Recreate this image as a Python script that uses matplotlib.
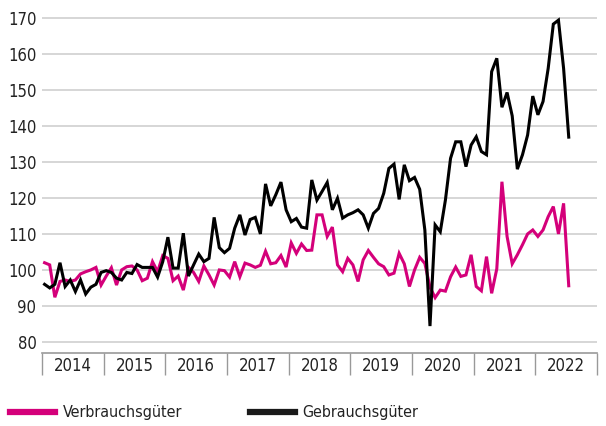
import numpy as np
import matplotlib
matplotlib.use('Agg')
import matplotlib.pyplot as plt
from matplotlib.lines import Line2D

plt.rcParams['font.family'] = ['DejaVu Sans']
plt.rcParams['font.stretch'] = 'condensed'

# monthly index values, Jan 2014 - Jul 2022
years = [2014, 2015, 2016, 2017, 2018, 2019, 2020, 2021, 2022]

verbrauch = [
    102, 101.4, 92.4, 96.8, 97.2, 96.8, 97.2, 98.9, 99.5, 100, 100.7, 95.8,
    98.3, 100.6, 95.8, 100, 100.9, 101.1, 100, 97, 97.7, 102.3, 99.5, 104,
    103.2, 97, 98.3, 94.4, 100.7, 99.3, 96.8, 101.1, 98.6, 95.8, 100, 99.8,
    98, 102.3, 98.1, 101.9, 101.4, 100.7, 101.3, 105.2, 101.7, 102, 104, 100.8,
    107.5, 104.6, 107.2, 105.4, 105.5, 115.3, 115.3, 109.3, 111.9, 101.4, 99.5, 103.2,
    101.4, 96.8, 102.8, 105.4, 103.5, 101.7, 100.9, 98.6, 99.1, 104.6, 101.7, 95.4,
    100, 103.5, 101.8, 95.2, 92.3, 94.4, 94.1, 98.1, 100.8, 98.2, 98.6, 104.2,
    95.4, 94.2, 103.7, 93.5, 100.3, 124.5, 109.3, 101.7, 104.2, 107, 110, 111.1,
    109.3, 111.1, 114.8, 117.6, 110, 118.5, 95.6,
]

gebrauch = [
    96, 95, 96, 102, 95.4, 97.2, 94, 97.2, 93.3, 95.2, 96, 99.3,
    99.8, 99.3, 97.7, 97.2, 99.3, 99, 101.5, 100.7, 100.7, 100.7, 98, 102.3,
    109.1, 100.5, 100.5, 110.2, 98.3, 101.4, 104.4, 102.3, 103.2, 114.6, 106.2, 104.8,
    106, 111.6, 115.3, 109.7, 114, 114.6, 110, 123.9, 117.8, 120.9, 124.4, 116.7,
    113.4, 114.3, 111.9, 111.6, 125, 119.4, 121.8, 124.3, 116.7, 119.9, 114.4, 115.3,
    115.9, 116.7, 115.3, 111.6, 115.7, 117.1, 121.3, 128.2, 129.4, 119.6, 129.2, 124.8,
    125.7, 122.4, 111.1, 84.4, 112.5, 110.6, 119.4, 131, 135.6, 135.6, 128.7, 134.7,
    137, 132.9, 132, 155.1, 158.8, 145.2, 149.3, 142.8, 128, 132, 137.5, 148.3,
    143.1, 146.8, 156, 168.3, 169.4, 156, 136.9,
]

pink = '#d4007a'
months = np.arange(len(gebrauch))

fig = plt.figure(figsize=(6.06, 4.26), dpi=100)
ax = fig.add_axes([42 / 606, 1 - 352.7 / 426, 555 / 606, (352.7 - 14.4) / 426])

ax.plot(months, verbrauch, color=pink, lw=2.2, solid_joinstyle='miter')
ax.plot(months, gebrauch, color='black', lw=2.2, solid_joinstyle='miter')

ax.set_xlim(-0.5, 12 * len(years) - 0.5)
ax.set_ylim(77, 171)
ax.set_yticks(np.arange(80, 171, 10))
ax.grid(axis='y', color='#d0d0d0', lw=1.2)
ax.set_axisbelow(True)

# year separators as major ticks, year names on minor ticks
ax.set_xticks(np.arange(len(years) + 1) * 12 - 0.5)
ax.set_xticklabels([])
ax.set_xticks(np.arange(len(years)) * 12 + 5.5, minor=True)
ax.set_xticklabels([str(y) for y in years], minor=True)
ax.tick_params(axis='x', which='major', direction='out', length=16, width=1, color='#999999')
ax.tick_params(axis='x', which='minor', length=0, pad=3, labelsize=12, labelcolor='#222222')
ax.tick_params(axis='y', length=0, pad=4, labelsize=12, labelcolor='#222222')

for side in ['top', 'right', 'left']:
    ax.spines[side].set_visible(False)
ax.spines['bottom'].set_color('#999999')
ax.spines['bottom'].set_linewidth(1.2)

# legend entries below the chart, one legend per series
legend_y = 1 - 413 / 426
for x0, color, label in [(10, pink, 'Verbrauchsgüter'), (250, '#1a1a1a', 'Gebrauchsgüter')]:
    fig.legend([Line2D([], [], color=color, lw=4.5)], [label],
               loc='center left', bbox_to_anchor=(x0 / 606, legend_y),
               frameon=False, fontsize=11.5, handlelength=2.8, handletextpad=0.5,
               borderpad=0, borderaxespad=0, labelcolor='#222222')

fig.savefig('out.png', dpi=100)
